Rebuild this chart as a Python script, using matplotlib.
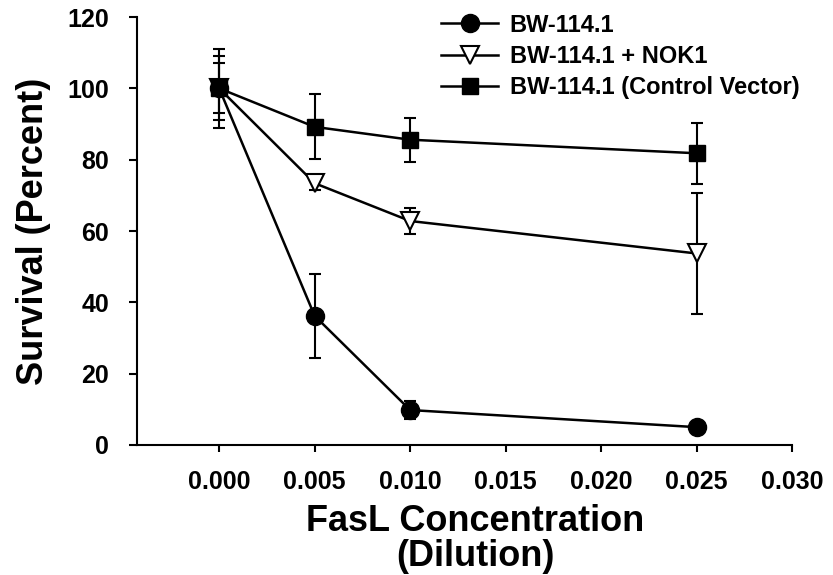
import matplotlib
matplotlib.use("Agg")
import matplotlib.pyplot as plt

plt.rcParams['font.family'] = ['Liberation Sans', 'DejaVu Sans']
plt.rcParams['font.weight'] = 'bold'

# FasL dilution and survival (percent) with error bars
dilution = [0.000, 0.005, 0.010, 0.025]

bw_survival = [100, 36.2, 9.8, 5.0]
bw_err = [11, 11.7, 2.5, 1.0]

nok1_survival = [100, 73.4, 62.8, 53.7]
nok1_err = [9, 2.0, 3.7, 17.0]

ctrl_survival = [100, 89.2, 85.6, 81.8]
ctrl_err = [7, 9.1, 6.2, 8.5]

fig = plt.figure(figsize=(8.33, 5.75), dpi=100)
ax = fig.add_axes([0.1645, 0.2261, 0.951 - 0.1645, 0.9704 - 0.2261])

err_style = dict(ecolor='black', elinewidth=1.5, capsize=4, capthick=1.5, zorder=2)

ax.errorbar(dilution, bw_survival, yerr=bw_err, fmt='none', **err_style)
ax.errorbar(dilution, nok1_survival, yerr=nok1_err, fmt='none', **err_style)
ax.errorbar(dilution, ctrl_survival, yerr=ctrl_err, fmt='none', **err_style)

ax.plot(dilution, bw_survival, color='black', lw=1.8, marker='o', markersize=13,
        markerfacecolor='black', markeredgecolor='black', label='BW-114.1', zorder=3)
ax.plot(dilution, nok1_survival, color='black', lw=1.8, marker='v', markersize=13,
        markerfacecolor='white', markeredgecolor='black', markeredgewidth=1.5,
        label='BW-114.1 + NOK1', zorder=3)
ax.plot(dilution, ctrl_survival, color='black', lw=1.8, marker='s', markersize=11.5,
        markerfacecolor='black', markeredgecolor='black',
        label='BW-114.1 (Control Vector)', zorder=3)

ax.set_xlim(-0.0043, 0.030)
ax.set_ylim(0, 120)
ax.set_xticks([0.000, 0.005, 0.010, 0.015, 0.020, 0.025, 0.030])
ax.set_xticklabels(['0.000', '0.005', '0.010', '0.015', '0.020', '0.025', '0.030'])
ax.set_yticks([0, 20, 40, 60, 80, 100, 120])

for side in ['top', 'right']:
    ax.spines[side].set_visible(False)
for side in ['left', 'bottom']:
    ax.spines[side].set_linewidth(1.5)

ax.tick_params(axis='x', direction='out', length=5, width=1.5, pad=13, labelsize=18)
ax.tick_params(axis='y', direction='out', length=6, width=1.5, pad=14, labelsize=18)
for lbl in ax.get_xticklabels() + ax.get_yticklabels():
    lbl.set_fontweight('bold')

ax.set_xlabel('FasL Concentration\n(Dilution)', fontsize=26, fontweight='bold',
              linespacing=1.0, labelpad=7)
ax.xaxis.label.set_x(0.516)
ax.set_ylabel('Survival (Percent)', fontsize=26, fontweight='bold', labelpad=12)

ax.legend(loc='upper left', bbox_to_anchor=(0.45, 1.03), frameon=False,
          handlelength=2.4, handletextpad=0.5, labelspacing=0.35,
          borderaxespad=0, prop={'weight': 'bold', 'size': 17})

fig.savefig('out.png', dpi=100)
